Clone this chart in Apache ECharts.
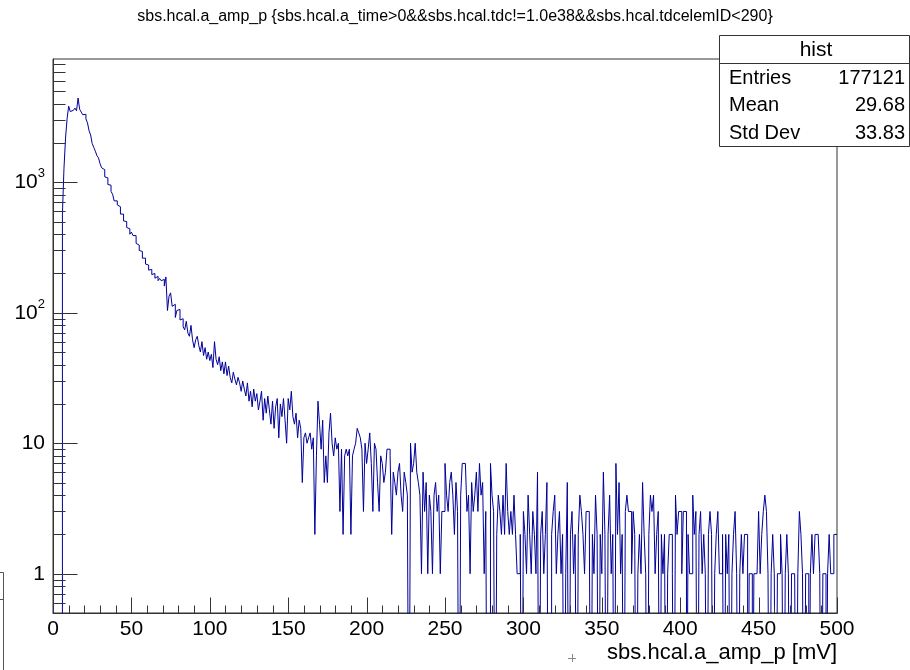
<!DOCTYPE html>
<html>
<head>
<meta charset="utf-8">
<script src="https://cdn.jsdelivr.net/npm/echarts@6/dist/echarts.min.js"></script>
<style>
html,body{margin:0;padding:0;background:#fff;}
#chart{width:910px;height:670px;}
</style>
</head>
<body>
<div id="chart"></div>
<script>
// ---- data ----
const TITLE = 'sbs.hcal.a_amp_p {sbs.hcal.a_time>0&&sbs.hcal.tdc!=1.0e38&&sbs.hcal.tdcelemID<290}';
const X_TITLE = 'sbs.hcal.a_amp_p [mV]';
const X_MIN = 0, X_MAX = 500, N_BINS = 500;
const Y_MIN = 0.5, Y_MAX = 8800;
const statsLabels = ['Entries', 'Mean', 'Std Dev'];
const statsValues = ['177121', '29.68', '33.83'];
const statsTitle = 'hist';
const yMajorTicks = [1, 10, 100, 1000];
const yMinorTicks = [0.5,0.6,0.7,0.8,0.9, 2,3,4,5,6,7,8,9, 20,30,40,50,60,70,80,90,
  200,300,400,500,600,700,800,900, 2000,3000,4000,5000,6000,7000,8000];
const xMajorTicks = [0, 50, 100, 150, 200, 250, 300, 350, 400, 450, 500];
const xMinorTicks = [10,20,30,40, 60,70,80,90, 110,120,130,140, 160,170,180,190, 210,220,230,240,
  260,270,280,290, 310,320,330,340, 360,370,380,390, 410,420,430,440, 460,470,480,490];
const counts = [
  0,0,0,0,0,0,570,1280,2180,3090,
  3830,3480,3560,3640,3700,3530,4420,3620,3450,3290,
  3320,3060,2850,2480,2300,1980,1850,1730,1600,1540,
  1390,1290,1250,1100,1080,960,950,850,810,720,
  720,670,650,570,570,505,500,450,440,400,
  415,390,390,340,330,300,295,262,262,236,
  232,212,215,196,200,184,190,176,183,176,
  180,160,188,104,134,142,112,116,92,104,
  106,88,90,78,74,86,70,66,80,62,
  54,62,66,56,50,60,47,54,44,50,
  43,48,38,60,44,40,46,36,42,34,
  42,33,39,32,29,35,31,28,32,29,
  25,30,26,23,29,21,25,19,26,21,
  24,18,21,25,15,22,17,23,18,14,
  21,13,19,22,11,20,16,22,15,10,
  22,18,25,16,14,17,11,15,13,5,
  11,12,10,11,12,9,11,2,8,21,
  14,9,15,5,8,5,12,17,10,8,
  11,9,10,3,9,2,8,9,8,9,
  2,8,9,10,13,12,11,9,3,10,
  7,9,12,7,3,10,9,5,3,8,
  7,5,6,9,9,8,2,6,5,4,
  6,7,4,3,6,5,4,0,10,6,
  7,10,6,5,4,1,6,3,5,1,
  4,3,1,4,5,3,4,1,3,3,
  7,4,3,5,6,4,2,5,3,0,
  4,7,7,7,3,4,1,5,3,4,
  6,3,7,4,5,1,3,0,0,7,
  4,3,0,2,4,3,2,4,2,7,
  3,2,3,2,4,2,1,1,2,0,
  3,2,1,4,2,1,3,2,1,6,
  0,2,3,1,2,5,0,0,2,3,
  4,1,2,3,1,2,0,1,5,0,
  2,3,1,2,0,2,4,3,2,1,
  3,3,3,0,2,1,4,2,0,2,
  1,6,2,0,2,4,1,2,0,7,
  2,5,1,2,0,3,4,3,3,1,
  3,2,0,1,2,1,5,2,1,0,
  2,4,3,4,1,2,3,0,2,1,
  2,0,1,2,2,1,0,4,2,3,
  3,1,3,3,0,2,1,1,4,2,
  3,0,2,3,1,2,1,0,2,3,
  2,0,1,2,3,1,1,2,0,2,
  1,2,0,1,2,3,1,0,1,2,
  1,2,2,0,1,1,0,1,1,1,
  3,1,2,3,4,3,1,0,1,2,
  1,0,1,1,2,1,0,1,2,1,
  0,1,1,1,0,1,3,2,1,0,
  1,1,0,1,2,1,2,2,2,1,
  0,1,1,0,1,2,1,1,2,2
];

// ---- build ----
const FONT = '"Liberation Sans", Arial, Helvetica, sans-serif';
const binW = (X_MAX - X_MIN) / N_BINS;
const FLOOR = 0.01; // zero bins drawn down to the frame bottom (clipped)
const histData = [];
counts.forEach((c, i) => {
  const v = c > 0 ? c : FLOOR;
  histData.push([X_MIN + i * binW, v]);
  histData.push([X_MIN + (i + 1) * binW, v]);
});

// [x, y, dx, dy] : tick anchored on an axis, drawn inward by (dx, dy) pixels
const tickData = yMajorTicks.map(v => [X_MIN, v, 24, 0])
  .concat(yMinorTicks.map(v => [X_MIN, v, 12, 0]))
  .concat(xMajorTicks.map(v => [v, Y_MIN, 0, -16]))
  .concat(xMinorTicks.map(v => [v, Y_MIN, 0, -8]));

const chart = echarts.init(document.getElementById('chart'), null, {renderer: 'canvas'});
const option = {
  animation: false,
  backgroundColor: '#fff',
  title: {
    text: TITLE, left: 'center', top: 4,
    textStyle: {fontFamily: FONT, fontSize: 16, fontWeight: 'normal', color: '#000'}
  },
  grid: {left: 53, right: 73, top: 59, bottom: 57, show: true, borderColor: '#333', borderWidth: 1, backgroundColor: 'transparent'},
  xAxis: {
    type: 'value', min: X_MIN, max: X_MAX, interval: 50,
    axisLine: {show: true, lineStyle: {color: '#333', width: 1}},
    axisTick: {show: false},
    minorTick: {show: false},
    splitLine: {show: false},
    axisLabel: {fontFamily: FONT, fontSize: 21, color: '#000', margin: 6, showMinLabel: true, showMaxLabel: true}
  },
  yAxis: {
    type: 'log', logBase: 10, min: Y_MIN, max: Y_MAX,
    axisLine: {show: true, lineStyle: {color: '#333', width: 1}},
    axisTick: {show: false},
    splitLine: {show: false},
    axisLabel: {
      margin: 8,
      formatter: function (v) {
        const l = Math.log10(v);
        const e = Math.round(l);
        if (Math.abs(l - e) > 1e-6 || e < 0) return '';
        if (e === 0) return '{b|1}';
        if (e === 1) return '{b|10}';
        return '{b|10}{s|' + e + '}';
      },
      rich: {
        b: {fontFamily: FONT, fontSize: 21, color: '#000', lineHeight: 30},
        s: {fontFamily: FONT, fontSize: 13, color: '#000', verticalAlign: 'top', lineHeight: 14}
      }
    }
  },
  series: [
    {
      type: 'line', data: histData, symbol: 'none', showSymbol: false, sampling: null,
      clip: true, lineStyle: {color: '#000099', width: 1}, itemStyle: {color: '#000099'}, z: 2
    },
    {
      type: 'custom', data: tickData, clip: false, silent: true, z: 3,
      renderItem: function (params, api) {
        const p = api.coord([api.value(0), api.value(1)]);
        const x = Math.round(p[0]) + 0.5, y = Math.round(p[1]) + 0.5;
        return {type: 'line', shape: {x1: x, y1: y, x2: x + api.value(2), y2: y + api.value(3)},
          style: {stroke: '#333', lineWidth: 1}};
      }
    }
  ],
  graphic: [
    {type: 'rect', z: 100, shape: {x: 719.5, y: 35.5, width: 190, height: 111}, style: {fill: '#fff', stroke: '#333', lineWidth: 1}},
    {type: 'line', z: 101, shape: {x1: 719.5, y1: 63.5, x2: 909.5, y2: 63.5}, style: {stroke: '#333', lineWidth: 1}},
    {type: 'text', z: 101, style: {text: statsTitle, x: 816, y: 50, textAlign: 'center', textVerticalAlign: 'middle', font: '21px ' + FONT, fill: '#000'}},
    ...statsLabels.map((t, i) => ({type: 'text', z: 101, style: {text: t, x: 729, y: 78 + i * 27.5, textAlign: 'left', textVerticalAlign: 'middle', font: '20px ' + FONT, fill: '#000'}})),
    ...statsValues.map((t, i) => ({type: 'text', z: 101, style: {text: t, x: 905, y: 78 + i * 27.5, textAlign: 'right', textVerticalAlign: 'middle', font: '20px ' + FONT, fill: '#000'}})),
    {type: 'text', z: 101, style: {text: X_TITLE, x: 837, y: 653, textAlign: 'right', textVerticalAlign: 'middle', font: '22px ' + FONT, fill: '#000'}},
    {type: 'line', z: 101, shape: {x1: 568, y1: 658.5, x2: 576, y2: 658.5}, style: {stroke: '#888', lineWidth: 1}},
    {type: 'line', z: 101, shape: {x1: 572.5, y1: 654, x2: 572.5, y2: 662}, style: {stroke: '#888', lineWidth: 1}},
    {type: 'polyline', z: 101, shape: {points: [[0, 572.5], [3.5, 572.5], [3.5, 670]]}, style: {stroke: '#555', lineWidth: 1, fill: null}},
    {type: 'line', z: 101, shape: {x1: 0, y1: 599.5, x2: 3.5, y2: 599.5}, style: {stroke: '#555', lineWidth: 1}}
  ]
};
chart.setOption(option);
</script>
</body>
</html>
